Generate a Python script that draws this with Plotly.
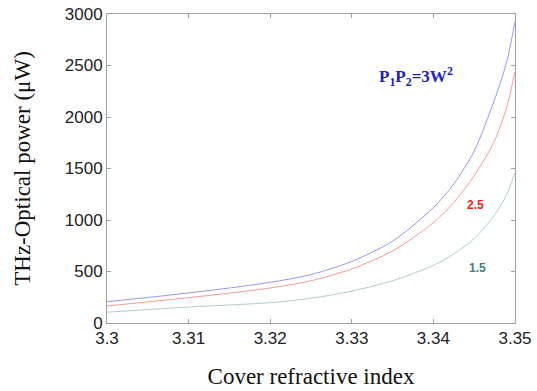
import plotly.graph_objects as go

# Data
n_cover = [3.300, 3.305, 3.310, 3.315, 3.320, 3.325, 3.330,
           3.335, 3.340, 3.3425, 3.345, 3.3475, 3.349, 3.350]
power_3 = [207, 248, 292, 340, 395, 470, 598,
           795, 1120, 1350, 1670, 2170, 2540, 2925]
power_25 = [165, 205, 246, 290, 340, 410, 525,
            700, 975, 1170, 1430, 1770, 2100, 2440]
power_15 = [105, 130, 155, 175, 197, 240, 310,
            410, 560, 670, 820, 1050, 1250, 1460]

x_ticks = [3.30, 3.31, 3.32, 3.33, 3.34, 3.35]
x_ticktext = ["3.3", "3.31", "3.32", "3.33", "3.34", "3.35"]
y_ticks = [0, 500, 1000, 1500, 2000, 2500, 3000]

series = [
    (power_3, "rgb(150,150,255)"),
    (power_25, "rgb(255,150,150)"),
    (power_15, "rgb(175,208,198)"),
]

fig = go.Figure()
for vals, col in series:
    fig.add_trace(go.Scatter(x=n_cover, y=vals, mode="lines",
                             line=dict(color=col, width=1, shape="spline", smoothing=0.8),
                             showlegend=False, hoverinfo="skip"))

fig.add_annotation(x=3.3379, y=2390, text="<b>P<sub>1</sub>P<sub>2</sub>=3W<sup>2</sup></b>",
                   showarrow=False, font=dict(family="Liberation Serif", size=17, color="#2020cc"))
fig.add_annotation(x=3.3452, y=1146, text="<b>2.5</b>", showarrow=False,
                   font=dict(family="Liberation Sans", size=12, color="#ff2020"))
fig.add_annotation(x=3.3454, y=531, text="<b>1.5</b>", showarrow=False,
                   font=dict(family="Liberation Sans", size=12, color="#3f7f7f"))

axis_common = dict(showline=True, linecolor="#a0a0a0", linewidth=1, mirror="allticks",
                   ticks="inside", ticklen=4, tickcolor="#a0a0a0", showgrid=False, zeroline=False,
                   automargin=False, ticklabeloverflow="allow",
                   tickfont=dict(family="Liberation Sans", size=17, color="#222222"))

fig.update_xaxes(range=[3.3, 3.35], tickvals=x_ticks, ticktext=x_ticktext,
                 title=dict(text="Cover refractive index", standoff=20,
                            font=dict(family="Liberation Serif", size=23, color="#111111")),
                 **axis_common)
fig.update_yaxes(range=[0, 3000], tickvals=y_ticks,
                 title=dict(text="THz-Optical power (μW)", standoff=27,
                            font=dict(family="Liberation Serif", size=23, color="#111111")),
                 **axis_common)

fig.update_layout(width=537, height=391, margin=dict(l=107, r=22, t=14, b=68),
                  paper_bgcolor="white", plot_bgcolor="white")

fig.write_html("out.html", config={"displayModeBar": False},
               post_script="document.body.style.margin='0';document.body.style.padding='0';")
